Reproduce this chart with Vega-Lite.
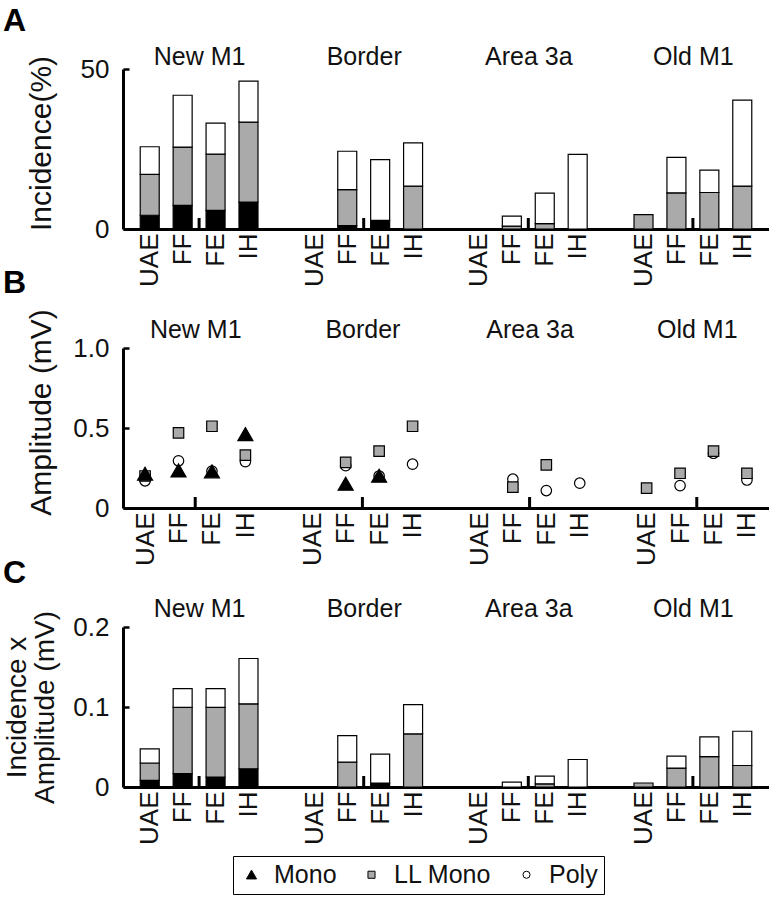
{
  "$schema": "https://vega.github.io/schema/vega-lite/v6.json",
  "padding": {"left": 3, "top": 5, "right": 0, "bottom": 50},
  "config": {
    "font": "Liberation Sans",
    "view": {"stroke": null},
    "axis": {"labelColor": "#111", "titleColor": "#111", "grid": false, "labelFont": "Liberation Sans", "titleFont": "Liberation Sans"},
    "title": {"anchor": "start", "frame": "group", "dx": -120, "fontSize": 32, "fontWeight": "bold", "baseline": "alphabetic", "color": "#000"},
    "legend": {"labelFont": "Liberation Sans", "labelColor": "#111"}
  },
  "datasets": {
    "inc": [
      {"region": "New M1", "cond": "UAE", "slot": 0, "type": "Mono", "ord": 0, "v": 4.3},
      {"region": "New M1", "cond": "UAE", "slot": 0, "type": "LL Mono", "ord": 1, "v": 12.8},
      {"region": "New M1", "cond": "UAE", "slot": 0, "type": "Poly", "ord": 2, "v": 8.6},
      {"region": "New M1", "cond": "FF", "slot": 1, "type": "Mono", "ord": 0, "v": 7.4},
      {"region": "New M1", "cond": "FF", "slot": 1, "type": "LL Mono", "ord": 1, "v": 18.2},
      {"region": "New M1", "cond": "FF", "slot": 1, "type": "Poly", "ord": 2, "v": 16.2},
      {"region": "New M1", "cond": "FE", "slot": 2, "type": "Mono", "ord": 0, "v": 5.8},
      {"region": "New M1", "cond": "FE", "slot": 2, "type": "LL Mono", "ord": 1, "v": 17.6},
      {"region": "New M1", "cond": "FE", "slot": 2, "type": "Poly", "ord": 2, "v": 9.7},
      {"region": "New M1", "cond": "IH", "slot": 3, "type": "Mono", "ord": 0, "v": 8.4},
      {"region": "New M1", "cond": "IH", "slot": 3, "type": "LL Mono", "ord": 1, "v": 25.0},
      {"region": "New M1", "cond": "IH", "slot": 3, "type": "Poly", "ord": 2, "v": 12.8},
      {"region": "Border", "cond": "FF", "slot": 6, "type": "Mono", "ord": 0, "v": 1.1},
      {"region": "Border", "cond": "FF", "slot": 6, "type": "LL Mono", "ord": 1, "v": 11.2},
      {"region": "Border", "cond": "FF", "slot": 6, "type": "Poly", "ord": 2, "v": 12.0},
      {"region": "Border", "cond": "FE", "slot": 7, "type": "Mono", "ord": 0, "v": 2.7},
      {"region": "Border", "cond": "FE", "slot": 7, "type": "Poly", "ord": 2, "v": 19.0},
      {"region": "Border", "cond": "IH", "slot": 8, "type": "LL Mono", "ord": 1, "v": 13.4},
      {"region": "Border", "cond": "IH", "slot": 8, "type": "Poly", "ord": 2, "v": 13.5},
      {"region": "Area 3a", "cond": "FF", "slot": 11, "type": "LL Mono", "ord": 1, "v": 0.9},
      {"region": "Area 3a", "cond": "FF", "slot": 11, "type": "Poly", "ord": 2, "v": 3.1},
      {"region": "Area 3a", "cond": "FE", "slot": 12, "type": "LL Mono", "ord": 1, "v": 1.7},
      {"region": "Area 3a", "cond": "FE", "slot": 12, "type": "Poly", "ord": 2, "v": 9.5},
      {"region": "Area 3a", "cond": "IH", "slot": 13, "type": "Poly", "ord": 2, "v": 23.3},
      {"region": "Old M1", "cond": "UAE", "slot": 15, "type": "LL Mono", "ord": 1, "v": 4.5},
      {"region": "Old M1", "cond": "FF", "slot": 16, "type": "LL Mono", "ord": 1, "v": 11.3},
      {"region": "Old M1", "cond": "FF", "slot": 16, "type": "Poly", "ord": 2, "v": 11.1},
      {"region": "Old M1", "cond": "FE", "slot": 17, "type": "LL Mono", "ord": 1, "v": 11.4},
      {"region": "Old M1", "cond": "FE", "slot": 17, "type": "Poly", "ord": 2, "v": 7.0},
      {"region": "Old M1", "cond": "IH", "slot": 18, "type": "LL Mono", "ord": 1, "v": 13.4},
      {"region": "Old M1", "cond": "IH", "slot": 18, "type": "Poly", "ord": 2, "v": 26.9}
    ],
    "prod": [
      {"region": "New M1", "cond": "UAE", "slot": 0, "type": "Mono", "ord": 0, "v": 0.0083},
      {"region": "New M1", "cond": "UAE", "slot": 0, "type": "LL Mono", "ord": 1, "v": 0.0217},
      {"region": "New M1", "cond": "UAE", "slot": 0, "type": "Poly", "ord": 2, "v": 0.0177},
      {"region": "New M1", "cond": "FF", "slot": 1, "type": "Mono", "ord": 0, "v": 0.0166},
      {"region": "New M1", "cond": "FF", "slot": 1, "type": "LL Mono", "ord": 1, "v": 0.083},
      {"region": "New M1", "cond": "FF", "slot": 1, "type": "Poly", "ord": 2, "v": 0.0234},
      {"region": "New M1", "cond": "FE", "slot": 2, "type": "Mono", "ord": 0, "v": 0.0125},
      {"region": "New M1", "cond": "FE", "slot": 2, "type": "LL Mono", "ord": 1, "v": 0.0871},
      {"region": "New M1", "cond": "FE", "slot": 2, "type": "Poly", "ord": 2, "v": 0.0234},
      {"region": "New M1", "cond": "IH", "slot": 3, "type": "Mono", "ord": 0, "v": 0.0228},
      {"region": "New M1", "cond": "IH", "slot": 3, "type": "LL Mono", "ord": 1, "v": 0.0812},
      {"region": "New M1", "cond": "IH", "slot": 3, "type": "Poly", "ord": 2, "v": 0.0566},
      {"region": "Border", "cond": "FF", "slot": 6, "type": "LL Mono", "ord": 1, "v": 0.031},
      {"region": "Border", "cond": "FF", "slot": 6, "type": "Poly", "ord": 2, "v": 0.0333},
      {"region": "Border", "cond": "FE", "slot": 7, "type": "Mono", "ord": 0, "v": 0.005},
      {"region": "Border", "cond": "FE", "slot": 7, "type": "Poly", "ord": 2, "v": 0.036},
      {"region": "Border", "cond": "IH", "slot": 8, "type": "LL Mono", "ord": 1, "v": 0.0664},
      {"region": "Border", "cond": "IH", "slot": 8, "type": "Poly", "ord": 2, "v": 0.0366},
      {"region": "Area 3a", "cond": "FF", "slot": 11, "type": "Poly", "ord": 2, "v": 0.006},
      {"region": "Area 3a", "cond": "FE", "slot": 12, "type": "LL Mono", "ord": 1, "v": 0.004},
      {"region": "Area 3a", "cond": "FE", "slot": 12, "type": "Poly", "ord": 2, "v": 0.0097},
      {"region": "Area 3a", "cond": "IH", "slot": 13, "type": "Poly", "ord": 2, "v": 0.0344},
      {"region": "Old M1", "cond": "UAE", "slot": 15, "type": "LL Mono", "ord": 1, "v": 0.005},
      {"region": "Old M1", "cond": "FF", "slot": 16, "type": "LL Mono", "ord": 1, "v": 0.0237},
      {"region": "Old M1", "cond": "FF", "slot": 16, "type": "Poly", "ord": 2, "v": 0.0149},
      {"region": "Old M1", "cond": "FE", "slot": 17, "type": "LL Mono", "ord": 1, "v": 0.038},
      {"region": "Old M1", "cond": "FE", "slot": 17, "type": "Poly", "ord": 2, "v": 0.0246},
      {"region": "Old M1", "cond": "IH", "slot": 18, "type": "LL Mono", "ord": 1, "v": 0.0269},
      {"region": "Old M1", "cond": "IH", "slot": 18, "type": "Poly", "ord": 2, "v": 0.0428}
    ],
    "amp": [
      {"region": "New M1", "cond": "UAE", "slot": 0, "type": "Poly", "v": 0.17},
      {"region": "New M1", "cond": "FF", "slot": 1, "type": "Poly", "v": 0.295},
      {"region": "New M1", "cond": "FE", "slot": 2, "type": "Poly", "v": 0.23},
      {"region": "New M1", "cond": "IH", "slot": 3, "type": "Poly", "v": 0.29},
      {"region": "Border", "cond": "FF", "slot": 6, "type": "Poly", "v": 0.265},
      {"region": "Border", "cond": "FE", "slot": 7, "type": "Poly", "v": 0.2},
      {"region": "Border", "cond": "IH", "slot": 8, "type": "Poly", "v": 0.274},
      {"region": "Area 3a", "cond": "FF", "slot": 11, "type": "Poly", "v": 0.18},
      {"region": "Area 3a", "cond": "FE", "slot": 12, "type": "Poly", "v": 0.109},
      {"region": "Area 3a", "cond": "IH", "slot": 13, "type": "Poly", "v": 0.155},
      {"region": "Old M1", "cond": "FF", "slot": 16, "type": "Poly", "v": 0.14},
      {"region": "Old M1", "cond": "FE", "slot": 17, "type": "Poly", "v": 0.342},
      {"region": "Old M1", "cond": "IH", "slot": 18, "type": "Poly", "v": 0.175},
      {"region": "New M1", "cond": "UAE", "slot": 0, "type": "LL Mono", "v": 0.2},
      {"region": "New M1", "cond": "FF", "slot": 1, "type": "LL Mono", "v": 0.47},
      {"region": "New M1", "cond": "FE", "slot": 2, "type": "LL Mono", "v": 0.511},
      {"region": "New M1", "cond": "IH", "slot": 3, "type": "LL Mono", "v": 0.33},
      {"region": "Border", "cond": "FF", "slot": 6, "type": "LL Mono", "v": 0.285},
      {"region": "Border", "cond": "FE", "slot": 7, "type": "LL Mono", "v": 0.356},
      {"region": "Border", "cond": "IH", "slot": 8, "type": "LL Mono", "v": 0.511},
      {"region": "Area 3a", "cond": "FF", "slot": 11, "type": "LL Mono", "v": 0.13},
      {"region": "Area 3a", "cond": "FE", "slot": 12, "type": "LL Mono", "v": 0.27},
      {"region": "Old M1", "cond": "UAE", "slot": 15, "type": "LL Mono", "v": 0.124},
      {"region": "Old M1", "cond": "FF", "slot": 16, "type": "LL Mono", "v": 0.217},
      {"region": "Old M1", "cond": "FE", "slot": 17, "type": "LL Mono", "v": 0.356},
      {"region": "Old M1", "cond": "IH", "slot": 18, "type": "LL Mono", "v": 0.217},
      {"region": "New M1", "cond": "UAE", "slot": 0, "type": "Mono", "v": 0.212},
      {"region": "New M1", "cond": "FF", "slot": 1, "type": "Mono", "v": 0.233},
      {"region": "New M1", "cond": "FE", "slot": 2, "type": "Mono", "v": 0.227},
      {"region": "New M1", "cond": "IH", "slot": 3, "type": "Mono", "v": 0.46},
      {"region": "Border", "cond": "FF", "slot": 6, "type": "Mono", "v": 0.15},
      {"region": "Border", "cond": "FE", "slot": 7, "type": "Mono", "v": 0.2}
    ],
    "groups": [
      {"region": "New M1", "pos": 1.5},
      {"region": "Border", "pos": 6.5},
      {"region": "Area 3a", "pos": 11.5},
      {"region": "Old M1", "pos": 16.5}
    ]
  },
  "bounds": "flush",
  "spacing": 119,
  "vconcat": [
    {
      "width": 646, "height": 160,
      "title": {"text": "A", "offset": 6},
      "resolve": {"axis": {"x": "independent"}},
      "layer": [
        {
          "data": {"name": "inc"},
          "mark": {"type": "bar", "orient": "vertical", "width": 19, "stroke": "black", "strokeWidth": 1.2},
          "encoding": {
            "x": {"field": "slot", "type": "quantitative", "scale": {"domain": [-0.66, 18.66], "nice": false, "zero": false},
              "axis": {"orient": "bottom", "values": [0,1,2,3,5,6,7,8,10,11,12,13,15,16,17,18], "labelExpr": "['UAE','FF','FE','IH','UAE'][datum.value % 5]", "ticks": false, "domainWidth": 3, "domainColor": "black", "labelAngle": 270, "labelAlign": "right", "labelBaseline": "middle", "labelFontSize": 26, "labelPadding": 4, "labelOverlap": false, "labelFlush": false, "title": null}},
            "y": {"field": "v", "type": "quantitative", "stack": "zero", "scale": {"domain": [0, 50], "nice": false},
              "axis": {"values": [0, 50], "domainWidth": 3, "domainColor": "black", "tickSize": -6, "tickWidth": 2.5, "tickColor": "black", "labelFontSize": 26, "labelPadding": 20, "title": "Incidence(%)", "titleFontSize": 30, "titleFontWeight": "normal", "titleX": -73, "titleY": 74, "titleBaseline": "alphabetic", "titleAlign": "center", "titleAngle": 270}},
            "fill": {"field": "type", "type": "nominal", "scale": {"domain": ["Mono", "LL Mono", "Poly"], "range": ["#000000", "#aaaaaa", "#ffffff"]}},
            "order": {"field": "ord", "type": "quantitative"}
          }
        },
        {
          "data": {"name": "groups"},
          "mark": {"type": "tick", "orient": "vertical", "size": 11, "thickness": 3, "color": "black", "opacity": 1, "yOffset": -5.5},
          "encoding": {
            "x": {"field": "pos", "type": "quantitative", "scale": {"domain": [-0.66, 18.66], "nice": false, "zero": false},
              "axis": {"orient": "top", "values": [1.5, 6.5, 11.5, 16.5], "labelExpr": "['New M1','Border','Area 3a','Old M1'][floor(datum.value / 5)]", "domain": false, "ticks": false, "labelAngle": 0, "labelAlign": "center", "labelBaseline": "alphabetic", "labelFontSize": 25, "labelPadding": 5, "labelOverlap": false, "labelFlush": false, "title": null}},
            "y": {"datum": 0, "type": "quantitative"}
          }
        }
      ]
    },
    {
      "width": 646, "height": 160,
      "title": {"text": "B", "offset": 9},
      "resolve": {"axis": {"x": "independent"}},
      "layer": [
        {
          "data": {"name": "amp"},
          "mark": {"type": "point", "filled": true, "stroke": "black", "strokeWidth": 1.2, "opacity": 1, "size": 110},
          "encoding": {
            "x": {"field": "slot", "type": "quantitative", "scale": {"domain": [-0.66, 18.66], "nice": false, "zero": false},
              "axis": {"orient": "bottom", "values": [0,1,2,3,5,6,7,8,10,11,12,13,15,16,17,18], "labelExpr": "['UAE','FF','FE','IH','UAE'][datum.value % 5]", "ticks": false, "domainWidth": 3, "domainColor": "black", "labelAngle": 270, "labelAlign": "right", "labelBaseline": "middle", "labelFontSize": 26, "labelPadding": 4, "labelOverlap": false, "labelFlush": false, "title": null}},
            "y": {"field": "v", "type": "quantitative", "scale": {"domain": [0, 1], "nice": false},
              "axis": {"values": [0, 0.5, 1], "labelExpr": "datum.value == 0 ? '0' : format(datum.value, '.1f')", "domainWidth": 3, "domainColor": "black", "tickSize": -6, "tickWidth": 2.5, "tickColor": "black", "labelFontSize": 26, "labelPadding": 20, "title": "Amplitude (mV)", "titleFontSize": 30, "titleFontWeight": "normal", "titleX": -73, "titleY": 64, "titleBaseline": "alphabetic", "titleAlign": "center", "titleAngle": 270}},
            "fill": {"field": "type", "type": "nominal", "scale": {"domain": ["Mono", "LL Mono", "Poly"], "range": ["#000000", "#aaaaaa", "#ffffff"]},
              "legend": {"orient": "none", "legendX": 110, "legendY": 787, "direction": "horizontal", "title": null, "strokeColor": "black", "padding": 6, "labelFontSize": 25, "symbolSize": 50, "symbolStrokeColor": "black", "symbolStrokeWidth": 1, "columnPadding": 22, "labelOffset": 10}},
            "shape": {"field": "type", "type": "nominal", "scale": {"domain": ["Mono", "LL Mono", "Poly"], "range": ["M0,-1.3L1.43,1.18L-1.43,1.18Z", "square", "circle"]},
              "legend": {"orient": "none", "legendX": 110, "legendY": 787, "direction": "horizontal", "title": null, "strokeColor": "black", "padding": 6, "labelFontSize": 25, "symbolSize": 50, "symbolStrokeColor": "black", "symbolStrokeWidth": 1, "columnPadding": 22, "labelOffset": 10}}
          }
        },
        {
          "data": {"name": "groups"},
          "mark": {"type": "tick", "orient": "vertical", "size": 11, "thickness": 3, "color": "black", "opacity": 1, "yOffset": -5.5},
          "encoding": {
            "x": {"field": "pos", "type": "quantitative", "scale": {"domain": [-0.66, 18.66], "nice": false, "zero": false},
              "axis": {"orient": "top", "values": [1.5, 6.5, 11.5, 16.5], "labelExpr": "['New M1','Border','Area 3a','Old M1'][floor(datum.value / 5)]", "domain": false, "ticks": false, "labelAngle": 0, "labelAlign": "center", "labelBaseline": "alphabetic", "labelFontSize": 25, "labelPadding": 11, "labelOverlap": false, "labelFlush": false, "title": null}},
            "y": {"datum": 0, "type": "quantitative"}
          }
        }
      ]
    },
    {
      "width": 646, "height": 160,
      "title": {"text": "C", "offset": 6},
      "resolve": {"axis": {"x": "independent"}},
      "layer": [
        {
          "data": {"name": "prod"},
          "mark": {"type": "bar", "orient": "vertical", "width": 19, "stroke": "black", "strokeWidth": 1.2},
          "encoding": {
            "x": {"field": "slot", "type": "quantitative", "scale": {"domain": [-0.66, 18.66], "nice": false, "zero": false},
              "axis": {"orient": "bottom", "values": [0,1,2,3,5,6,7,8,10,11,12,13,15,16,17,18], "labelExpr": "['UAE','FF','FE','IH','UAE'][datum.value % 5]", "ticks": false, "domainWidth": 3, "domainColor": "black", "labelAngle": 270, "labelAlign": "right", "labelBaseline": "middle", "labelFontSize": 26, "labelPadding": 4, "labelOverlap": false, "labelFlush": false, "title": null}},
            "y": {"field": "v", "type": "quantitative", "stack": "zero", "scale": {"domain": [0, 0.2], "nice": false},
              "axis": {"values": [0, 0.1, 0.2], "labelExpr": "datum.value == 0 ? '0' : format(datum.value, '.1f')", "domainWidth": 3, "domainColor": "black", "tickSize": -6, "tickWidth": 2.5, "tickColor": "black", "labelFontSize": 26, "labelPadding": 20, "title": ["Incidence x", "Amplitude (mV)"], "titleFontSize": 28, "titleFontWeight": "normal", "titleX": -98, "titleY": 80, "titleLineHeight": 28, "titleBaseline": "alphabetic", "titleAlign": "center", "titleAngle": 270}},
            "fill": {"field": "type", "type": "nominal", "scale": {"domain": ["Mono", "LL Mono", "Poly"], "range": ["#000000", "#aaaaaa", "#ffffff"]}},
            "order": {"field": "ord", "type": "quantitative"}
          }
        },
        {
          "data": {"name": "groups"},
          "mark": {"type": "tick", "orient": "vertical", "size": 11, "thickness": 3, "color": "black", "opacity": 1, "yOffset": -5.5},
          "encoding": {
            "x": {"field": "pos", "type": "quantitative", "scale": {"domain": [-0.66, 18.66], "nice": false, "zero": false},
              "axis": {"orient": "top", "values": [1.5, 6.5, 11.5, 16.5], "labelExpr": "['New M1','Border','Area 3a','Old M1'][floor(datum.value / 5)]", "domain": false, "ticks": false, "labelAngle": 0, "labelAlign": "center", "labelBaseline": "alphabetic", "labelFontSize": 25, "labelPadding": 11, "labelOverlap": false, "labelFlush": false, "title": null}},
            "y": {"datum": 0, "type": "quantitative"}
          }
        }
      ]
    }
  ]
}
